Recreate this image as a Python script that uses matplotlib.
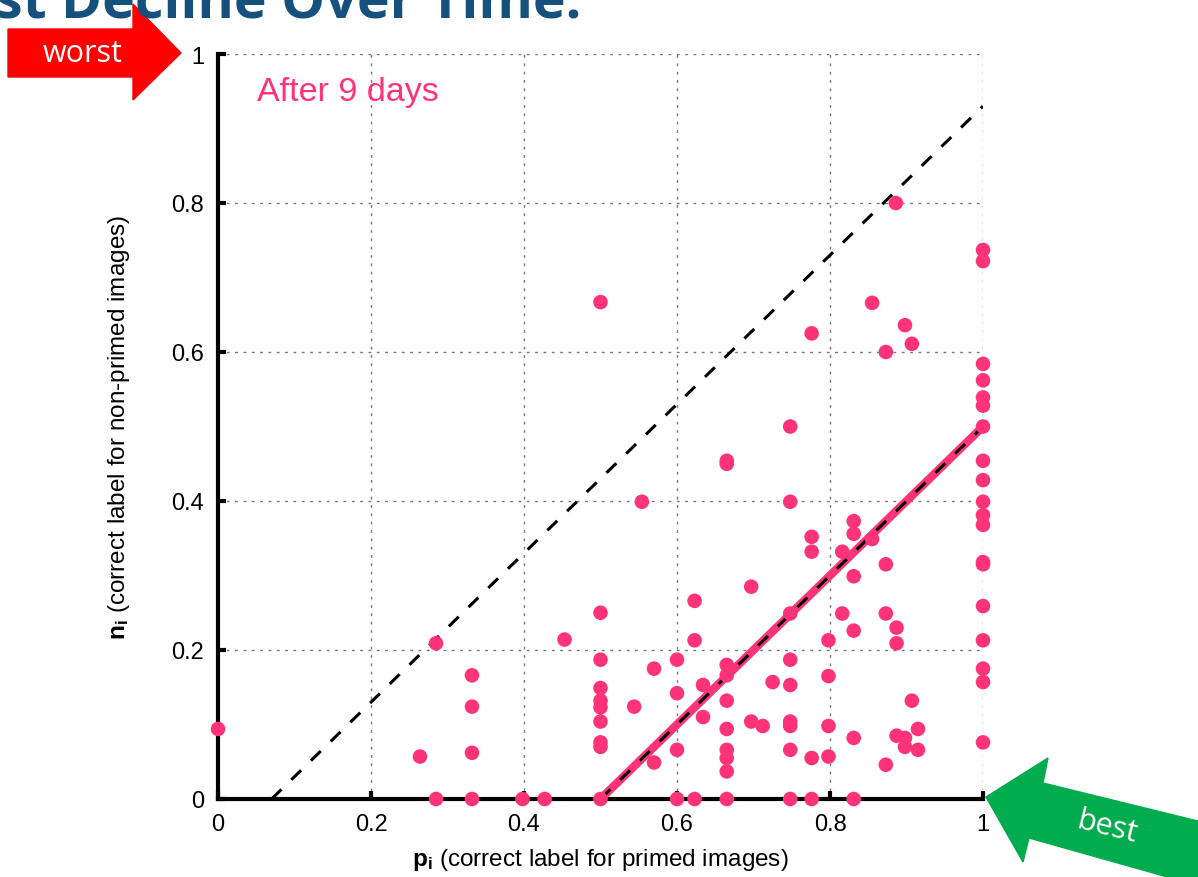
import matplotlib
matplotlib.use("Agg")
import matplotlib.pyplot as plt
from matplotlib.patches import Polygon

plt.rcParams.update({
    "font.family": ["Liberation Sans", "DejaVu Sans"],
    "mathtext.fontset": "custom",
    "mathtext.rm": "Liberation Sans",
    "mathtext.bf": "Liberation Sans:bold",
})

PINK = "#FF3377"
W, H = 1198, 878

# p_i (x) and n_i (y) values
xs = [0.0, 0.264, 0.285, 0.285,
      0.332, 0.332, 0.332, 0.332, 0.398, 0.427, 0.453,
      0.5, 0.5, 0.5, 0.5, 0.5, 0.5, 0.5, 0.5, 0.5, 0.5,
      0.544, 0.554, 0.570, 0.570,
      0.6, 0.6, 0.6, 0.6,
      0.623, 0.623, 0.623, 0.634, 0.634,
      0.665, 0.665, 0.665, 0.665, 0.665, 0.665, 0.665, 0.665, 0.665, 0.665,
      0.697, 0.697, 0.712, 0.725,
      0.748, 0.748, 0.748, 0.748, 0.748, 0.748, 0.748, 0.748, 0.748,
      0.776, 0.776, 0.776, 0.776, 0.776,
      0.798, 0.798, 0.798, 0.798, 0.816, 0.816,
      0.831, 0.831, 0.831, 0.831, 0.831, 0.831,
      0.855, 0.855, 0.873, 0.873, 0.873, 0.873, 0.886,
      0.887, 0.887, 0.887, 0.898, 0.898, 0.898, 0.907, 0.907, 0.915, 0.915,
      1.0, 1.0, 1.0, 1.0, 1.0, 1.0, 1.0, 1.0, 1.0, 1.0,
      1.0, 1.0, 1.0, 1.0, 1.0, 1.0, 1.0, 1.0, 1.0]
ys = [0.094, 0.057, 0.209, 0.0,
      0.166, 0.124, 0.062, 0.0, 0.0, 0.0, 0.214,
      0.667, 0.25, 0.187, 0.149, 0.132, 0.123, 0.104, 0.076, 0.070, 0.0,
      0.124, 0.399, 0.175, 0.049,
      0.187, 0.142, 0.066, 0.0,
      0.266, 0.213, 0.0, 0.153, 0.110,
      0.454, 0.450, 0.180, 0.166, 0.132, 0.094, 0.066, 0.055, 0.037, 0.0,
      0.285, 0.104, 0.098, 0.157,
      0.500, 0.399, 0.249, 0.187, 0.153, 0.104, 0.098, 0.066, 0.0,
      0.625, 0.352, 0.332, 0.055, 0.0,
      0.213, 0.165, 0.098, 0.057, 0.332, 0.249,
      0.373, 0.356, 0.299, 0.226, 0.082, 0.0,
      0.666, 0.349, 0.600, 0.315, 0.249, 0.046, 0.800,
      0.230, 0.209, 0.085, 0.636, 0.082, 0.070, 0.611, 0.132, 0.094, 0.066,
      0.737, 0.722, 0.584, 0.562, 0.539, 0.528, 0.500, 0.454, 0.428, 0.399,
      0.381, 0.368, 0.318, 0.315, 0.259, 0.213, 0.175, 0.157, 0.076]

upper_x = [0.07, 1.0]
upper_y = [0.0, 0.93]
fit_x = [0.5, 1.0]
fit_y = [0.0, 0.5]
ticks = [0, 0.2, 0.4, 0.6, 0.8, 1]
tick_labels = ["0", "0.2", "0.4", "0.6", "0.8", "1"]


def fig_xy(px, py):
    return px / W, 1 - py / H


fig = plt.figure(figsize=(W / 100, H / 100), dpi=100)
ax = fig.add_axes([218 / W, 1 - 800 / H, 765 / W, 745 / H])
ax.set_xlim(0, 1)
ax.set_ylim(0, 1)

ax.grid(True, color="#777777", ls=(0, (2, 4)), lw=1.0)
ax.set_axisbelow(True)
for s in ("top", "right"):
    ax.spines[s].set_visible(False)
for s in ("left", "bottom"):
    ax.spines[s].set_linewidth(3.0)
ax.set_xticks(ticks, tick_labels)
ax.set_yticks(ticks, tick_labels)
ax.tick_params(direction="in", length=6, width=3, labelsize=17, pad=10)

ax.plot(fit_x, fit_y, color=PINK, lw=6, solid_capstyle="round", zorder=3)
ax.plot(upper_x, upper_y, color="black", lw=2.2, ls=(0, (4.5, 4.5)), zorder=4)
ax.plot(fit_x, fit_y, color="black", lw=2.2, ls=(0, (4.5, 4.5)), zorder=4)
ax.scatter(xs, ys, s=110, color=PINK, edgecolors="none", zorder=5, clip_on=False)

ax.text(0.051, 0.949, "After 9 days", color=PINK, fontsize=24.5, va="center", ha="left")
ax.set_xlabel(r"$\mathbf{p_i}$ (correct label for primed images)", fontsize=17.5, labelpad=8)
ax.set_ylabel(r"$\mathbf{n_i}$ (correct label for non-primed images)", fontsize=17.5,
              labelpad=28)

# cut-off slide title
fig.text(*fig_xy(-5, 17), "st Decline Over Time.", color="#16507D", fontsize=40,
         fontweight="bold", family="Open Sans", va="baseline", ha="left")

# red "worst" arrow
red = [(8, 30), (133, 30), (133, 5), (181, 54), (133, 101), (133, 78), (8, 78)]
fig.patches.append(Polygon([fig_xy(*p) for p in red], closed=True, color="#FF0000",
                           transform=fig.transFigure))
fig.text(*fig_xy(83, 54), "worst", color="white", fontsize=22, family="Open Sans",
         ha="center", va="center")

# green "best" arrow
green = [(986, 798), (1048, 759), (1043, 784), (1210, 825), (1210, 890),
         (1029, 839), (1023, 863)]
fig.patches.append(Polygon([fig_xy(*p) for p in green], closed=True, color="#00AC4E",
                           transform=fig.transFigure))
fig.text(*fig_xy(1107, 828), "best", color="white", fontsize=22, family="Open Sans",
         ha="center", va="center", rotation=-14)

fig.savefig("out.png", dpi=100)
